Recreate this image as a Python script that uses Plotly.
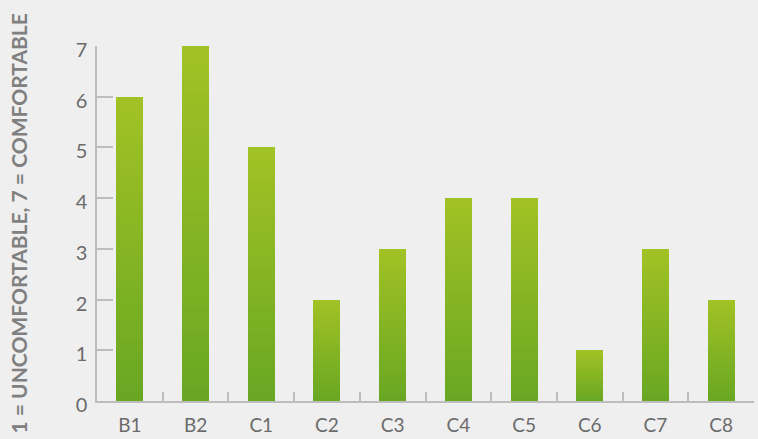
import plotly.graph_objects as go

categories = ["B1", "B2", "C1", "C2", "C3", "C4", "C5", "C6", "C7", "C8"]
values = [6, 7, 5, 2, 3, 4, 4, 1, 3, 2]
y_ticks = [0, 1, 2, 3, 4, 5, 6, 7]
y_title = "1 = UNCOMFORTABLE, 7 = COMFORTABLE"

top_rgb = (0xA2, 0xC2, 0x24)
bot_rgb = (0x68, 0xA7, 0x23)
N = 30

fig = go.Figure()
for i in range(N):
    t = (i + 0.5) / N
    c = tuple(round(b + (a - b) * t) for a, b in zip(top_rgb, bot_rgb))
    fig.add_trace(go.Bar(
        x=categories,
        y=[v / N for v in values],
        marker=dict(color="rgb(%d,%d,%d)" % c, line=dict(width=0)),
        hoverinfo="skip",
        showlegend=False,
    ))

axis_col = "#bdbdbd"
font_col = "#6b6b6b"
fig.update_layout(
    barmode="stack",
    bargap=0.59,
    width=758, height=439,
    margin=dict(l=97, r=4, t=46, b=38),
    paper_bgcolor="#efefef",
    plot_bgcolor="#efefef",
    font=dict(family="Lato, Open Sans, sans-serif", color=font_col, size=17),
    xaxis=dict(
        showgrid=False, showline=True, linecolor=axis_col, linewidth=1.5,
        ticks="inside", tickson="boundaries", ticklen=9, tickcolor=axis_col, tickwidth=1.5,
        tickfont=dict(size=19, color=font_col), zeroline=False, ticklabelstandoff=6,
    ),
    yaxis=dict(
        range=[0, 7], tickvals=y_ticks, showgrid=False, showline=True,
        linecolor=axis_col, linewidth=1.5, ticks="inside", ticklen=16,
        tickcolor=axis_col, tickwidth=1.5, zeroline=False,
        tickfont=dict(size=20, color=font_col), ticklabelstandoff=4, ticklabelshift=4,
    ),
    annotations=[dict(
        text=y_title, textangle=-90, showarrow=False,
        xref="paper", yref="paper", x=0, y=0.5, xanchor="center", yanchor="middle",
        xshift=-79,
        font=dict(size=21, color="#808080", family="Lato, sans-serif", weight="bold"),
    )],
)
fig.write_html("out.html", config={"displayModeBar": False},
               post_script="document.body.style.margin='0';document.body.style.background='#efefef';")
